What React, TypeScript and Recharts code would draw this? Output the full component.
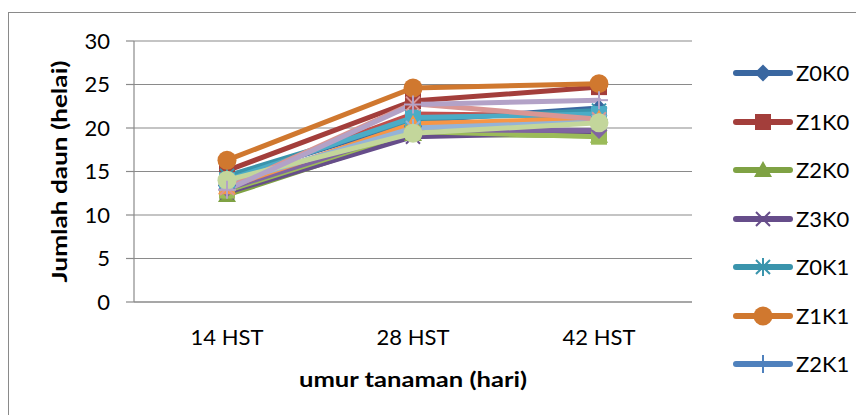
import React from "react";
import { LineChart, Line, XAxis, YAxis, CartesianGrid, Legend, Label } from "recharts";

// umur tanaman (hari)
const categories = ["14 HST", "28 HST", "42 HST"];

// jumlah daun per perlakuan
const z0k0 = [14.2, 20.8, 22.3];
const z1k0 = [15.1, 23.1, 24.7];
const z2k0 = [12.3, 19.3, 19.1];
const z3k0 = [12.6, 19.0, 19.5];
const z0k1 = [14.5, 21.0, 22.0];
const z1k1 = [16.3, 24.6, 25.1];
const z2k1 = [13.4, 20.2, 20.9];
const z3k1 = [13.8, 21.6, 21.4];
const z0k2 = [12.8, 19.6, 19.0];
const z1k2 = [13.0, 19.8, 19.7];
const z2k2 = [14.0, 21.2, 21.6];
const z3k2 = [13.2, 20.5, 21.1];
const z0k3 = [13.6, 20.0, 20.7];
const z1k3 = [13.1, 22.8, 21.0];
const z2k3 = [14.0, 19.4, 20.6];
const z3k3 = [12.9, 22.7, 23.2];

const yTicks = [0, 5, 10, 15, 20, 25, 30];

type Shape = "diamond" | "square" | "triangle" | "x" | "star" | "circle" | "plus";

const SERIES: { name: string; values: number[]; color: string; shape: Shape }[] = [
  { name: "Z0K0", values: z0k0, color: "#3A67A0", shape: "diamond" },
  { name: "Z1K0", values: z1k0, color: "#A33E3B", shape: "square" },
  { name: "Z2K0", values: z2k0, color: "#7FA244", shape: "triangle" },
  { name: "Z3K0", values: z3k0, color: "#664D8A", shape: "x" },
  { name: "Z0K1", values: z0k1, color: "#3A94AC", shape: "star" },
  { name: "Z1K1", values: z1k1, color: "#D0782F", shape: "circle" },
  { name: "Z2K1", values: z2k1, color: "#4F81BD", shape: "plus" },
  { name: "Z3K1", values: z3k1, color: "#C0504D", shape: "diamond" },
  { name: "Z0K2", values: z0k2, color: "#9BBB59", shape: "square" },
  { name: "Z1K2", values: z1k2, color: "#8064A2", shape: "diamond" },
  { name: "Z2K2", values: z2k2, color: "#4BACC6", shape: "square" },
  { name: "Z3K2", values: z3k2, color: "#F79646", shape: "triangle" },
  { name: "Z0K3", values: z0k3, color: "#95B3D7", shape: "star" },
  { name: "Z1K3", values: z1k3, color: "#D99694", shape: "x" },
  { name: "Z2K3", values: z2k3, color: "#C3D69B", shape: "circle" },
  { name: "Z3K3", values: z3k3, color: "#B3A2C7", shape: "plus" },
];

const data = categories.map((c, i) => {
  const row: Record<string, string | number> = { cat: c };
  SERIES.forEach((s) => (row[s.name] = s.values[i]));
  return row;
});

const FONT = "Lato, 'Open Sans', sans-serif";
const GRID = "#8a8a8a";

function Marker({ cx, cy, shape, color }: { cx: number; cy: number; shape: Shape; color: string }) {
  const r = 8.5;
  switch (shape) {
    case "diamond":
      return <polygon points={`${cx},${cy - r} ${cx + r},${cy} ${cx},${cy + r} ${cx - r},${cy}`} fill={color} />;
    case "square":
      return <rect x={cx - 8} y={cy - 8} width={16} height={16} fill={color} />;
    case "triangle":
      return <polygon points={`${cx},${cy - 9} ${cx + 9},${cy + 7} ${cx - 9},${cy + 7}`} fill={color} />;
    case "circle":
      return <circle cx={cx} cy={cy} r={9.5} fill={color} />;
    case "x":
      return (
        <g stroke={color} strokeWidth={2}>
          <line x1={cx - 7} y1={cy - 7} x2={cx + 7} y2={cy + 7} />
          <line x1={cx - 7} y1={cy + 7} x2={cx + 7} y2={cy - 7} />
        </g>
      );
    case "star":
      return (
        <g stroke={color} strokeWidth={2}>
          <line x1={cx - 7} y1={cy - 7} x2={cx + 7} y2={cy + 7} />
          <line x1={cx - 7} y1={cy + 7} x2={cx + 7} y2={cy - 7} />
          <line x1={cx} y1={cy - 9} x2={cx} y2={cy + 9} />
        </g>
      );
    case "plus":
      return (
        <g stroke={color} strokeWidth={2}>
          <line x1={cx} y1={cy - 9} x2={cx} y2={cy + 9} />
          <line x1={cx - 9} y1={cy} x2={cx + 9} y2={cy} />
        </g>
      );
  }
  return null;
}

function dotFor(shape: Shape, color: string) {
  return (props: any) => {
    const { cx, cy, key, index } = props;
    if (cx == null || cy == null) return <g key={key ?? index} />;
    return (
      <g key={key ?? `${shape}-${index}`}>
        <Marker cx={cx} cy={cy} shape={shape} color={color} />
      </g>
    );
  };
}

// excel only shows the entries that fit in the box
function LegendBox() {
  return (
    <div style={{ fontFamily: FONT, fontSize: 22, color: "#000" }}>
      {SERIES.slice(0, 7).map((s) => (
        <div key={s.name} style={{ display: "flex", alignItems: "center", height: 48.5 }}>
          <svg width={60} height={24} style={{ flex: "none" }}>
            <line x1={3} y1={12} x2={57} y2={12} stroke={s.color} strokeWidth={6} strokeLinecap="round" />
            <Marker cx={30} cy={12} shape={s.shape} color={s.color} />
          </svg>
          <span style={{ marginLeft: 3, lineHeight: 1 }}>{s.name}</span>
        </div>
      ))}
    </div>
  );
}

export default function App() {
  return (
    <div
      style={{
        position: "relative",
        top: 4,
        width: 856,
        height: 407,
        borderTop: `1px solid ${GRID}`,
        borderLeft: `1px solid ${GRID}`,
        boxSizing: "border-box",
        overflow: "hidden",
        background: "#fff",
      }}
    >
      <LineChart width={855} height={406} data={data} margin={{ top: 28, right: 172, left: 0, bottom: 57 }}>
        <CartesianGrid vertical={false} stroke={GRID} strokeWidth={1.2} />
        <XAxis
          dataKey="cat"
          height={60}
          padding={{ left: 93, right: 93 }}
          axisLine={{ stroke: GRID, strokeWidth: 1.2 }}
          tickLine={false}
          tickMargin={21}
          tick={{ fill: "#000", fontSize: 22, fontFamily: FONT }}
        >
          <Label
            content={({ viewBox }: any) => (
              <text
                x={viewBox.x + viewBox.width / 2}
                y={viewBox.y + 85}
                textAnchor="middle"
                textLength={228}
                lengthAdjust="spacingAndGlyphs"
                fontFamily={FONT}
                fontWeight="bold"
                fontSize={21}
                fill="#000"
              >
                umur tanaman (hari)
              </text>
            )}
          />
        </XAxis>
        <YAxis
          width={125}
          domain={[0, 30]}
          ticks={yTicks}
          interval={0}
          axisLine={{ stroke: GRID, strokeWidth: 1.2 }}
          tickLine={{ stroke: GRID, strokeWidth: 1.2 }}
          tickSize={8}
          tickMargin={16}
          tick={{ fill: "#000", fontSize: 22, fontFamily: FONT }}
        >
          <Label
            content={({ viewBox }: any) => {
              const x = viewBox.x + 49;
              const y = viewBox.y + viewBox.height / 2;
              return (
                <text
                  x={x}
                  y={y}
                  transform={`rotate(-90 ${x} ${y})`}
                  textAnchor="middle"
                  dominantBaseline="central"
                  textLength={222}
                  lengthAdjust="spacingAndGlyphs"
                  fontFamily={FONT}
                  fontWeight="bold"
                  fontSize={21}
                  fill="#000"
                >
                  Jumlah daun (helai)
                </text>
              );
            }}
          />
        </YAxis>
        <Legend
          layout="horizontal"
          align="center"
          verticalAlign="middle"
          content={() => <LegendBox />}
          wrapperStyle={{ left: 724, top: 36, width: 140 }}
        />
        {SERIES.map((s) => (
          <Line
            key={s.name}
            dataKey={s.name}
            stroke={s.color}
            strokeWidth={5}
            strokeLinecap="round"
            dot={dotFor(s.shape, s.color)}
            activeDot={false}
            isAnimationActive={false}
          />
        ))}
      </LineChart>
    </div>
  );
}
